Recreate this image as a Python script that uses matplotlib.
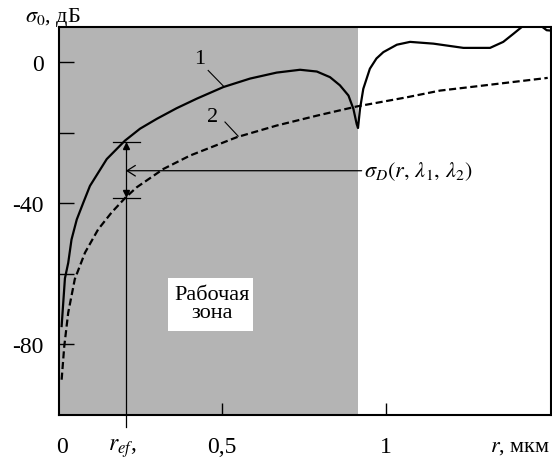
import matplotlib
matplotlib.use("Agg")
import matplotlib.pyplot as plt
from matplotlib.patches import Rectangle

plt.rcParams['font.family'] = ['Liberation Serif', 'DejaVu Serif']
plt.rcParams['mathtext.fontset'] = 'stix'

# ---- data ----
r1 = [0.014, 0.024, 0.034, 0.044, 0.060, 0.080, 0.100, 0.151, 0.206, 0.252,
      0.303, 0.363, 0.424, 0.505, 0.586, 0.667, 0.738, 0.789, 0.829, 0.859,
      0.885, 0.900, 0.910, 0.914, 0.920, 0.930, 0.950, 0.970, 0.991, 1.032,
      1.072, 1.143, 1.234, 1.315, 1.355, 1.386, 1.411, 1.430, 1.470, 1.487, 1.500]
s1 = [-74.8, -61.3, -56.9, -50.3, -44.6, -39.8, -35.1, -27.5, -22.3, -18.9,
      -16.1, -13.1, -10.4, -7.1, -4.7, -3.0, -2.2, -2.7, -4.3, -6.6,
      -9.5, -13.3, -17.6, -18.7, -13.3, -7.6, -1.9, 1.0, 2.8, 4.9,
      5.7, 5.2, 4.0, 4.0, 5.7, 8.0, 9.9, 10.4, 10.2, 9.0, 8.9]

r2 = [0.014, 0.022, 0.034, 0.054, 0.085, 0.125, 0.166, 0.208, 0.242, 0.323,
      0.404, 0.546, 0.667, 0.789, 0.910, 1.062, 1.163, 1.264, 1.490]
s2 = [-90.0, -80.5, -71.0, -61.5, -54.0, -47.4, -42.6, -38.4, -35.5, -30.3,
      -26.5, -21.3, -18.0, -15.2, -12.6, -10.0, -8.1, -7.0, -4.5]

r_ef = 0.209
sigma_top = -22.6
sigma_bot = -38.4
sigma_D_level = -30.8
zone_end = 0.915

xlim = (0.006, 1.5)
ylim = (-100, 10)
yticks = [0, -20, -40, -60, -80]
yticklabels = ['0', '', '-40', '', '-80']
xticks = [0.5, 1.0]
xticklabels = ['0,5', '1']

# ---- figure ----
fig = plt.figure(figsize=(5.52, 4.64), dpi=100)
ax = fig.add_axes([59/552, 48/464, 492/552, 388.3/464])
ax.set_xlim(*xlim)
ax.set_ylim(*ylim)

ax.axvspan(xlim[0], zone_end, color='#b4b4b4', lw=0, zorder=0)

ax.plot(r1, s1, color='black', lw=1.6, zorder=3, solid_joinstyle='round')
ax.plot(r2, s2, color='black', lw=1.6, ls=(0, (3.2, 1.6)), zorder=3)

# r_ef dimension marks
ax.plot([r_ef, r_ef], [sigma_top, -103.5], color='black', lw=0.9, clip_on=False, zorder=4)
for yv in (sigma_top, sigma_bot):
    ax.plot([0.171, 0.252], [yv, yv], color='black', lw=0.9, zorder=4)
ax.plot([r_ef], [sigma_top - 1.3], marker='^', color='black', ms=5, zorder=5)
ax.plot([r_ef], [sigma_bot + 1.3], marker='v', color='black', ms=5, zorder=5)

# sigma_D pointer
ax.annotate('', xy=(r_ef, sigma_D_level), xytext=(0.925, sigma_D_level),
            arrowprops=dict(arrowstyle='->, head_length=0.6, head_width=0.38',
                            color='black', lw=0.9, shrinkA=0, shrinkB=0), zorder=4)
ax.text(0.932, sigma_D_level, r'$\sigma_D(r,\,\lambda_1,\,\lambda_2)$',
        fontsize=16, va='center', ha='left')

# curve labels
ax.text(0.434, 0.9, '1', fontsize=16, ha='center', va='center')
ax.plot([0.459, 0.505], [-2.4, -6.8], color='black', lw=0.8)
ax.text(0.473, -15.4, '2', fontsize=16, ha='center', va='center')
ax.plot([0.510, 0.550], [-17.0, -21.0], color='black', lw=0.8)

# working zone box
ax.add_patch(Rectangle((0.337, -76.2), 0.257, 14.9, facecolor='white',
                       edgecolor='none', zorder=2))
ax.text(0.470, -68.5, 'Рабочая\nзона', fontsize=16, ha='center', va='center',
        multialignment='center', linespacing=0.94, zorder=3)

# ticks
ax.set_yticks(yticks)
ax.set_yticklabels(yticklabels)
ax.set_xticks(xticks)
ax.set_xticklabels(xticklabels)
ax.set_xticks([0.014, r_ef - 0.012], minor=True)
ax.set_xticklabels(['0', r'$r_{ef}$,'], minor=True)
ax.tick_params(axis='y', direction='in', length=11, width=1, labelsize=17, pad=11)
ax.tick_params(axis='x', which='major', direction='in', length=9, width=1,
               labelsize=17, pad=15)
ax.tick_params(axis='x', which='minor', length=0, labelsize=17, pad=15)
for sp in ax.spines.values():
    sp.set_linewidth(1.5)

# axis titles
fig.text(25/552, 1 - 22/464, r'$\sigma_0$, дБ', fontsize=16, ha='left', va='baseline')
fig.text(550/552, 1 - 452/464, r'$r$, мкм', fontsize=16, ha='right', va='baseline')

fig.savefig('out.png', dpi=100)
